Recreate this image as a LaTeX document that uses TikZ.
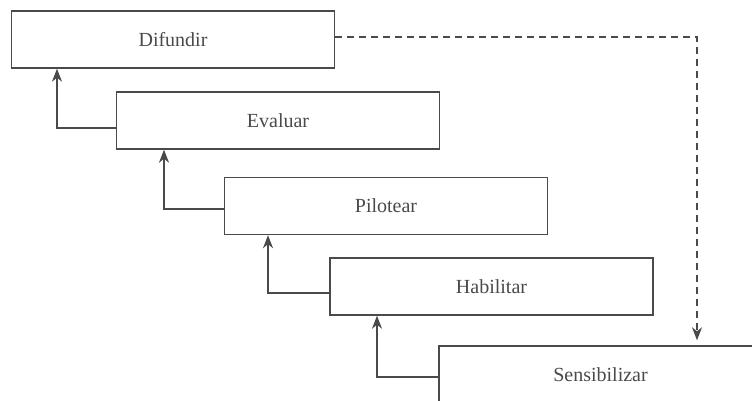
\documentclass[tikz,border=0pt]{standalone}
\usepackage{fontspec}
\setmainfont{Liberation Serif}
\usetikzlibrary{arrows.meta}
\definecolor{ln}{HTML}{4A4A4A}
\begin{document}
\begin{tikzpicture}[x=1pt,y=-1pt,
  stage/.style={draw=ln,line width=1.4pt,fill=white,minimum width=323pt,minimum height=57pt,inner sep=0pt,font=\fontsize{20}{24}\selectfont,text=ln},
  up/.style={draw=ln,line width=1.4pt,-{Stealth[length=13pt,width=10pt,inset=4pt]}},
  dashline/.style={draw=ln,line width=1.4pt,dash pattern=on 7pt off 5pt,-{Stealth[length=13pt,width=10pt,inset=4pt]}}]
\useasboundingbox (0,0) rectangle (752,401);
\node[stage] (d) at (173,39.5) {Difundir};
\node[stage] (e) at (278,120.5) {Evaluar};
\node[stage] (p) at (386,206) {Pilotear};
\node[stage] (h) at (491.5,286.5) {Habilitar};
\node[stage] (s) at (600.5,374.5) {Sensibilizar};
\coordinate (c1) at (57,128);
\coordinate (c2) at (164,209);
\coordinate (c3) at (268,293);
\coordinate (c4) at (377,377);
\coordinate (c5) at (697,37);
\draw[up] (e.west |- c1) -- (c1) -- (c1 |- d.south);
\draw[up] (p.west |- c2) -- (c2) -- (c2 |- e.south);
\draw[up] (h.west |- c3) -- (c3) -- (c3 |- p.south);
\draw[up] (s.west |- c4) -- (c4) -- (c4 |- h.south);
\draw[dashline,shorten >=5pt] (d.east |- c5) -- (c5) -- (c5 |- s.north);
\end{tikzpicture}
\end{document}
